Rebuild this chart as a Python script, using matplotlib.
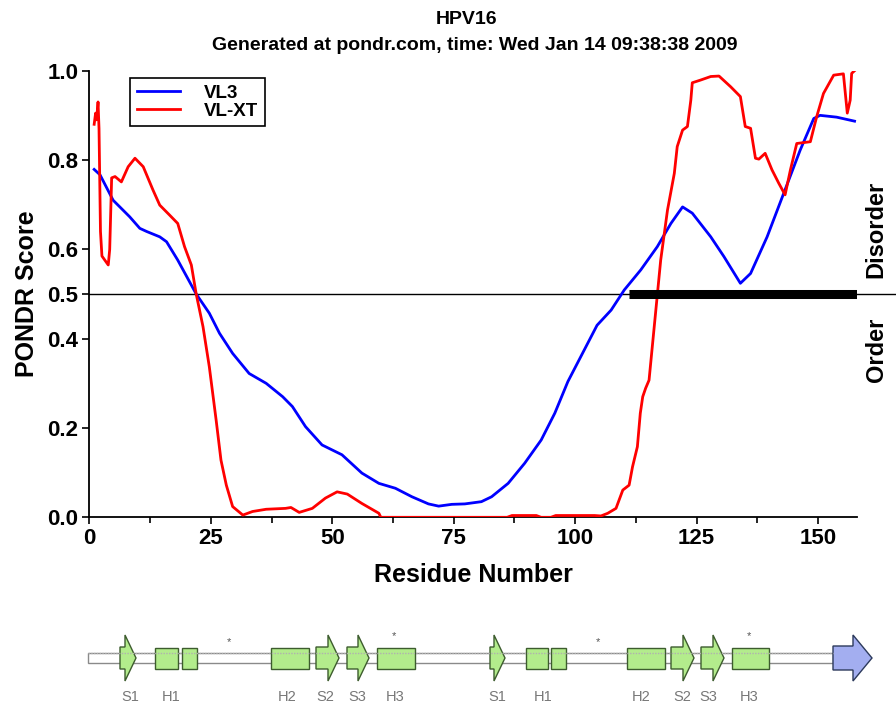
import matplotlib
matplotlib.use("Agg")
import matplotlib.pyplot as plt
from matplotlib.patches import Rectangle, FancyArrow

# PONDR VL3 prediction (residue, score)
vl3_res = [1, 2.2, 4.9, 8.3, 10.4, 11.8, 14.5, 15.9, 18.2, 22, 24.7, 26.8, 29.5,
           32.9, 36.4, 39.8, 41.8, 44.5, 47.9, 52, 56.1, 59.6, 63, 66.4, 69.8,
           71.9, 74.6, 77.3, 80.7, 82.8, 86.2, 89.6, 93, 95.8, 98.5, 104.5,
           107.4, 110.1, 113.5, 116.9, 119.7, 122.1, 124.1, 127.9, 130.6, 134,
           136.1, 139.5, 142.9, 146.3, 149.1, 150.4, 153.8, 157.5]
vl3_val = [0.779, 0.767, 0.71, 0.673, 0.647, 0.64, 0.628, 0.617, 0.576, 0.5,
           0.457, 0.412, 0.367, 0.322, 0.30, 0.27, 0.248, 0.203, 0.162, 0.14,
           0.099, 0.076, 0.065, 0.046, 0.03, 0.025, 0.029, 0.03, 0.035, 0.046,
           0.076, 0.121, 0.173, 0.233, 0.304, 0.43, 0.464, 0.509, 0.554, 0.606,
           0.658, 0.695, 0.681, 0.628, 0.584, 0.524, 0.546, 0.628, 0.725, 0.822,
           0.893, 0.90, 0.896, 0.887]

# PONDR VL-XT prediction (residue, score)
vlxt_res = [1.0, 1.3, 1.5, 1.8, 2.0, 2.3, 2.6, 3.9, 4.2, 4.6, 5.3, 6.6, 8.0, 9.4,
            11.1, 13.1, 14.5, 16.5, 18.2, 19.6, 21, 22, 23.4, 24.7, 26.1, 27.1,
            28.2, 29.5, 31.6, 33.6, 36.4, 40.4, 41.5, 43.2, 45.9, 48.6, 51, 53.1,
            56.1, 59.6, 60, 86, 87, 92, 93, 95, 96, 104, 105.3, 106.7, 108.4,
            109.8, 111.1, 111.8, 112.8, 113.4, 113.9, 114.5, 115.2, 116.6, 117.6,
            119, 120.4, 121, 122.1, 123.1, 123.8, 124.1, 125.8, 127.9, 129.6, 132,
            134, 135, 136.1, 137.1, 137.8, 139.1, 140.5, 141.9, 143.2, 144.3,
            145.6, 148.4, 149.7, 151.1, 153.2, 155.2, 156, 156.6, 156.9, 157.5]
vlxt_val = [0.88, 0.905, 0.89, 0.93, 0.87, 0.64, 0.585, 0.565, 0.60, 0.76, 0.763,
            0.751, 0.785, 0.804, 0.785, 0.733, 0.699, 0.677, 0.658, 0.606, 0.565,
            0.5, 0.427, 0.337, 0.218, 0.128, 0.072, 0.024, 0.005, 0.013, 0.018,
            0.02, 0.022, 0.011, 0.02, 0.043, 0.057, 0.052, 0.031, 0.009, 0.0, 0.0,
            0.004, 0.004, 0.0, 0.0, 0.004, 0.004, 0.003, 0.009, 0.02, 0.061, 0.072,
            0.113, 0.158, 0.233, 0.27, 0.289, 0.307, 0.464, 0.576, 0.688, 0.77,
            0.83, 0.867, 0.875, 0.934, 0.973, 0.979, 0.987, 0.988, 0.964, 0.942,
            0.875, 0.871, 0.804, 0.802, 0.815, 0.778, 0.748, 0.722, 0.778, 0.837,
            0.841, 0.897, 0.949, 0.99, 0.993, 0.905, 0.934, 0.994, 1.0]

# disordered region (VL-XT / VL3 consensus bar)
disorder_region = (111, 158)

x_ticks = [0, 25, 50, 75, 100, 125, 150]
y_ticks = [0.0, 0.2, 0.4, 0.5, 0.6, 0.8, 1.0]

# secondary structure track (track units, left to right)
helix_spans = [(155, 178), (182, 197), (271, 309), (377, 415),
               (526, 548), (551, 566), (627, 665), (732, 769)]
strand_spans = [(120, 136), (316, 339), (347, 369),
                (490, 505), (671, 694), (701, 724)]
end_arrow = (833, 872)
star_x = [229, 394, 598, 749]
star_high = [False, True, False, True]
ss_labels = ["S1", "H1", "H2", "S2", "S3", "H3", "S1", "H1", "H2", "S2", "S3", "H3"]
ss_label_x = [130, 171, 287, 325, 357, 395, 497, 543, 641, 682, 708, 749]

FONT = ["Liberation Sans", "DejaVu Sans"]
plt.rcParams["font.family"] = FONT

fig = plt.figure(figsize=(8.96, 7.05), dpi=100)

# ---- secondary structure track, drawn first underneath ----
tr = fig.add_axes([0, 0, 1, 1])
tr.set_xlim(0, 896)
tr.set_ylim(705, 0)
tr.axis("off")
yc = 658
tr.add_patch(Rectangle((88, yc - 5), end_arrow[0] - 88, 10, facecolor="white",
                       edgecolor="#8a8a8a", lw=1.0))
tr.plot([88, end_arrow[0]], [yc - 5, yc - 5], color="#b0b0b0", lw=1.0, ls=(0, (1, 1)))
for x0, x1 in helix_spans:
    tr.add_patch(Rectangle((x0, yc - 10.5), x1 - x0, 21, facecolor="#b3ec8c",
                           edgecolor="#3d5c2e", lw=1.0))
for x0, x1 in strand_spans:
    tr.add_patch(FancyArrow(x0, yc, x1 - x0, 0, width=22, head_width=46,
                            head_length=11, length_includes_head=True,
                            facecolor="#b3ec8c", edgecolor="#3d5c2e", lw=1.0))
tr.add_patch(FancyArrow(end_arrow[0], yc, end_arrow[1] - end_arrow[0], 0, width=24,
                        head_width=46, head_length=19, length_includes_head=True,
                        facecolor="#a3aef0", edgecolor="#2c3a5c", lw=1.0))
for sx, hi in zip(star_x, star_high):
    tr.text(sx, 636 if hi else 642, "*", ha="center", va="center",
            fontsize=8, color="#555555")
for lab, lx in zip(ss_labels, ss_label_x):
    tr.text(lx, 697, lab, ha="center", va="center", fontsize=10.5, color="#777777")

# ---- main PONDR plot ----
ax = fig.add_axes([89.3 / 896, 1 - 517.3 / 705, (857 - 89.3) / 896, (517.3 - 70.7) / 705])
ax.patch.set_alpha(0)
ax.plot(vl3_res, vl3_val, color="#0000ff", lw=2.0, label="VL3", zorder=3)
ax.plot(vlxt_res, vlxt_val, color="#ff0000", lw=2.0, label="VL-XT", zorder=3)
ax.plot([0, 166.5], [0.5, 0.5], color="black", lw=1.0, clip_on=False, zorder=2)
ax.plot(disorder_region, [0.5, 0.5], color="black", lw=6.5,
        solid_capstyle="butt", zorder=4)

ax.set_xlim(0, 158)
ax.set_ylim(0, 1.0)
ax.set_xticks(x_ticks)
ax.set_xticks([12.5, 37.5, 62.5, 87.5, 112.5, 137.5], minor=True)
ax.set_yticks(y_ticks)
ax.set_yticklabels([f"{t:.1f}" for t in y_ticks])
for s in ("top", "right"):
    ax.spines[s].set_visible(False)
for s in ("left", "bottom"):
    ax.spines[s].set_linewidth(1.3)
ax.tick_params(which="both", direction="out", width=1.2)
ax.tick_params(which="major", length=5, labelsize=16, pad=3)
ax.tick_params(which="minor", length=4)
for lbl in ax.get_xticklabels() + ax.get_yticklabels():
    lbl.set_fontweight("bold")

ax.set_xlabel("Residue Number", fontsize=18, fontweight="bold", labelpad=10)
ax.set_ylabel("PONDR Score", fontsize=18, fontweight="bold", labelpad=6)

leg = ax.legend(loc="upper left", bbox_to_anchor=(130 / 896, 1 - 78 / 705),
                bbox_transform=fig.transFigure, borderaxespad=0, frameon=True,
                fancybox=False, edgecolor="black", framealpha=1, borderpad=0.35,
                handlelength=2.3, handletextpad=1.3, labelspacing=0.05,
                prop={"weight": "bold", "size": 13.5, "family": FONT})
leg.get_frame().set_linewidth(1.2)

fig.text(876 / 896, 1 - 229 / 705, "Disorder", rotation=90, ha="center", va="center",
         fontsize=17, fontweight="bold")
fig.text(876 / 896, 1 - 350 / 705, "Order", rotation=90, ha="center", va="center",
         fontsize=17, fontweight="bold")

fig.text(467 / 896, 1 - 19 / 705, "HPV16", ha="center", va="center",
         fontsize=14, fontweight="bold")
fig.text(475 / 896, 1 - 45 / 705,
         "Generated at pondr.com, time: Wed Jan 14 09:38:38 2009",
         ha="center", va="center", fontsize=14, fontweight="bold")

fig.savefig("out.png", dpi=100)
